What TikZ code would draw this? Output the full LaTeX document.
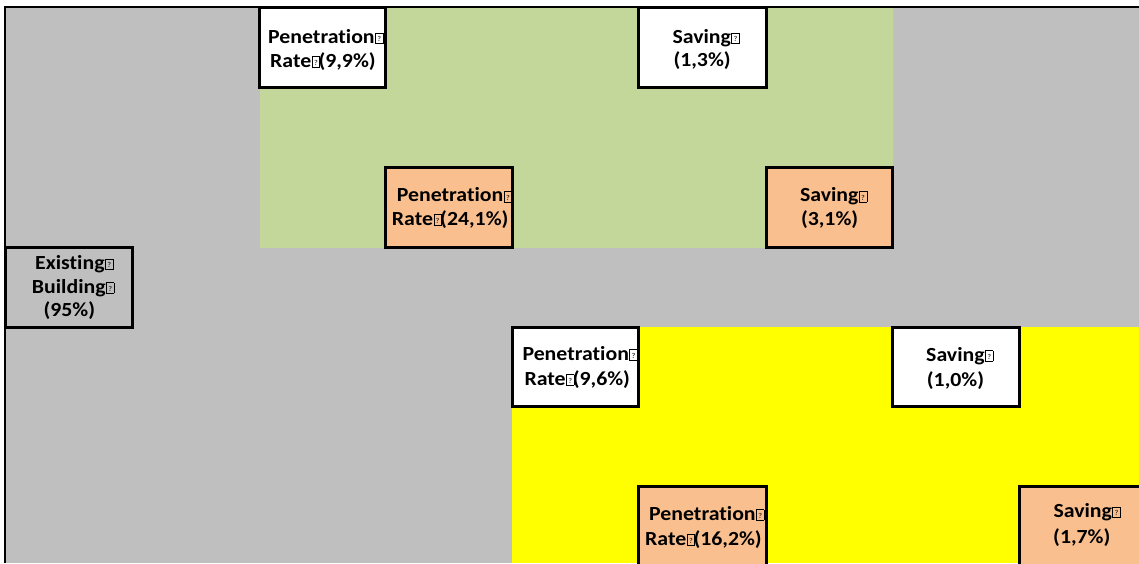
\documentclass[tikz,border=0pt]{standalone}
\usepackage{fontspec}
\setmainfont{Carlito}[FakeStretch=1.09,Ligatures=NoCommon]
\definecolor{cellgray}{HTML}{BFBFBF}
\definecolor{cellgreen}{HTML}{C4D79B}
\definecolor{cellorange}{HTML}{FABF8F}
\definecolor{cellyellow}{HTML}{FFFF00}
\newcommand{\tofu}{\kern0.5pt{\fboxsep0pt\fboxrule0.6pt\fbox{\makebox[7pt][c]{\rule{0pt}{10pt}\raisebox{1.5pt}{\fontsize{7.5}{7.5}\selectfont\mdseries ?}}}}\kern-1.5pt}
\tikzset{
  cellbox/.style={draw=black, line width=3pt},
  txt/.style={anchor=base west, inner sep=0pt, font=\fontsize{20}{24}\selectfont\bfseries},
  frame/.style={draw=black, line width=2pt}
}
\begin{document}
\begin{tikzpicture}[x=1pt,y=-1pt]
\useasboundingbox (0,0) rectangle (1139,563);
\fill[white] (0,0) rectangle (1139,563);
% regions
\fill[cellgray] (5,7) rectangle (1139,563);
\fill[cellgreen] (259.5,7) rectangle (892.5,247.5);
\fill[cellyellow] (512,327) rectangle (1139,563);
% outer frame
\coordinate (tl) at (5,7);
\coordinate (tr) at (1139,7);
\coordinate (bl) at (5,563);
\draw[frame] (tr) -- (tl) -- (bl);
% boxes (fills)
\fill[white] (259.5,7) rectangle (385.5,87);
\fill[white] (638.5,7) rectangle (766,87);
\fill[cellorange] (385.5,167.5) rectangle (512,247.5);
\fill[cellorange] (766,167.5) rectangle (892.5,247.5);
\fill[white] (512,327) rectangle (638.5,406.5);
\fill[white] (892.5,327) rectangle (1019.5,406.5);
\fill[cellorange] (638.5,486) rectangle (766,566);
\fill[cellorange] (1019.5,486) rectangle (1146,566);
% texts
\node[txt] (p1a) at (268,43.3) {Penetration\tofu};
\node[txt] (p1b) at (270,67) {Rate\tofu(9,9\%)};
\node[txt] (s1a) at (672.3,43.3) {Saving\tofu};
\node[txt] (s1b) at (673.3,66.7) {(1,3\%)};
\node[txt] (p2a) at (396.7,201.7) {Penetration\tofu};
\node[txt] (p2b) at (391.7,225) {Rate\tofu(24,1\%)};
\node[txt] (s2a) at (799.8,201.7) {Saving\tofu};
\node[txt] (s2b) at (800.8,225) {(3,1\%)};
\node[txt] (eba) at (35,269.3) {Existing\tofu};
\node[txt] (ebb) at (31.7,293) {Building\tofu};
\node[txt] (ebc) at (43.3,316.7) {(95\%)};
\node[txt] (p3a) at (522.3,360) {Penetration\tofu};
\node[txt] (p3b) at (524.3,385) {Rate\tofu(9,6\%)};
\node[txt] (s3a) at (926,361) {Saving\tofu};
\node[txt] (s3b) at (926.7,386) {(1,0\%)};
\node[txt] (p4a) at (649,520) {Penetration\tofu};
\node[txt] (p4b) at (645,545) {Rate\tofu(16,2\%)};
\node[txt] (s4a) at (1053.3,517.3) {Saving\tofu};
\node[txt] (s4b) at (1053,543) {(1,7\%)};
% box borders
\draw[cellbox] (259.5,7) rectangle (385.5,87);
\draw[cellbox] (638.5,7) rectangle (766,87);
\draw[cellbox] (385.5,167.5) rectangle (512,247.5);
\draw[cellbox] (766,167.5) rectangle (892.5,247.5);
\draw[cellbox] (5.5,247.5) rectangle (132,327);
\draw[cellbox] (512,327) rectangle (638.5,406.5);
\draw[cellbox] (892.5,327) rectangle (1019.5,406.5);
\draw[cellbox] (638.5,486) rectangle (766,566);
\draw[cellbox] (1019.5,486) rectangle (1146,566);
\end{tikzpicture}
\end{document}
